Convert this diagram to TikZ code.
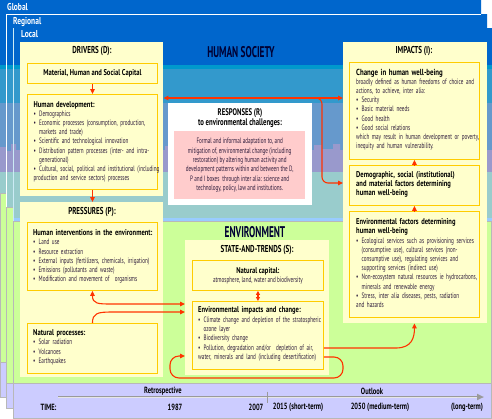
\documentclass[tikz,border=0pt]{standalone}
\usepackage{fontspec}
\setmainfont{PT Sans}[FakeStretch=0.66]
\newfontfamily\condfont{PT Sans}[FakeStretch=0.6]
\newfontfamily\ttlfont{PT Sans}[FakeStretch=0.7]
\newfontfamily\hdfont{PT Sans}[FakeStretch=0.78]
\newfontfamily\lvlfont{PT Sans}[FakeStretch=0.75]
\newfontfamily\tlfont{PT Sans}[FakeStretch=0.72]
\usetikzlibrary{arrows.meta}

\definecolor{skyA}{HTML}{0066CC}
\definecolor{skyB}{HTML}{0099CC}
\definecolor{skyC}{HTML}{3399CC}
\definecolor{skyD}{HTML}{6699CC}
\definecolor{skyE}{HTML}{9999CC}
\definecolor{skyF}{HTML}{99CCCC}
\definecolor{skyG}{HTML}{99CCFF}
\definecolor{envgreen}{HTML}{CCFF99}
\definecolor{timelav}{HTML}{CCCCFF}
\definecolor{boxyellow}{HTML}{FFFFCC}
\definecolor{boxline}{HTML}{FFCC00}
\definecolor{respink}{HTML}{FFCCCC}
\definecolor{arrred}{HTML}{FF3300}
\definecolor{bodytxt}{HTML}{2E1C3C}
\definecolor{navy}{HTML}{000033}
\definecolor{framegray}{HTML}{B8B8B8}
\definecolor{timegray}{HTML}{9A9A9A}

\newcommand\bodyfont{\fontsize{7.8}{9.2}\selectfont}
\newcommand\bu{\par\hangindent=5.5pt\hangafter=1\noindent\makebox[5.5pt][l]{\textbullet}}
\newcommand\hdr[1]{{\color{black}\hdfont\bfseries\fontsize{8.4}{9.2}\selectfont #1}}
\newcommand\skybands{%
  \fill[skyA] (0,0) rectangle (492,65);
  \fill[skyB] (0,65) rectangle (492,69);
  \fill[skyC] (0,69) rectangle (492,103);
  \fill[skyD] (0,103) rectangle (492,153);
  \fill[skyE] (0,153) -- (0,147) -- (6,147) -- (6,151) -- (11,151) -- (11,144) -- (16,144) -- (16,150) -- (165,150) -- (165,146) -- (170,146) -- (170,150) -- (314,150) -- (314,145) -- (322,145) -- (322,149) -- (333,149) -- (333,144) -- (340,144) -- (340,150) -- (492,150) -- (492,172) -- (0,172) -- cycle;
  \fill[skyF] (0,172) rectangle (492,218);
  \fill[skyG] (0,218) rectangle (492,221);
}

\begin{document}
\begin{tikzpicture}[x=1pt,y=-1pt,
  outerbox/.style={fill=boxyellow, draw=none, inner sep=0pt, anchor=north west},
  innerbox/.style={fill=boxyellow, draw=boxline, line width=0.9pt, inner sep=0pt, anchor=north west},
  body/.style={font=\bodyfont, text=bodytxt, align=left, inner sep=0pt, anchor=base west, text width=#1},
  body/.default=128pt,
  ttl/.style={font=\ttlfont\bfseries\fontsize{10}{11}\selectfont, text=black, inner sep=0pt, align=center},
  bigttl/.style={font=\condfont\bfseries\fontsize{15.5}{18}\selectfont, text=navy, inner sep=0pt},
  lvl/.style={font=\lvlfont\bfseries\fontsize{10}{11}\selectfont, text=white, inner sep=0pt, anchor=west},
  tl/.style={font=\tlfont\bfseries\fontsize{9}{10}\selectfont, text=black, inner sep=0pt},
  arr/.style={draw=arrred, line width=1.1pt, -{Triangle[length=5pt,width=4.5pt]}},
  darr/.style={draw=arrred, line width=1.1pt, {Triangle[length=5pt,width=4.5pt]}-{Triangle[length=5pt,width=4.5pt]}},
  sarr/.style={draw=arrred, line width=1.1pt, {Triangle[length=4pt,width=4pt]}-{Triangle[length=4pt,width=4pt]}}
]
\useasboundingbox (0,0) rectangle (492,418);
\fill[white] (0,0) rectangle (492,418);

% ---------- Global frame ----------
\begin{scope}\clip (0,0) rectangle (481,193); \skybands \end{scope}
\fill[envgreen] (0,193) rectangle (481,362);
\fill[timelav] (0,362) rectangle (481,397);
\draw[framegray, line width=0.6pt] (0.3,193) rectangle (481,397);
\draw[framegray, line width=0.6pt] (0.3,362) -- (481,362);

% ---------- Regional frame ----------
\begin{scope}\clip (6,14) rectangle (487,207); \skybands \end{scope}
\fill[envgreen] (6,207) rectangle (487,383);
\fill[timelav] (6,383) rectangle (487,408);
\draw[framegray, line width=0.6pt] (6,207) rectangle (487,408);
\draw[framegray, line width=0.6pt] (6,383) -- (487,383);
\draw[white, line width=1pt] (6,14) -- (481,14);
\draw[white, line width=0.8pt] (6,14) -- (6,207);

% ---------- Local frame ----------
\begin{scope}\clip (13,28) rectangle (492,221); \skybands \end{scope}
\fill[envgreen] (13,221) rectangle (492,383);
\fill[timelav] (13,383) rectangle (492,418);
\draw[framegray, line width=0.6pt] (13,221) rectangle (491.5,418);
\draw[framegray, line width=0.6pt] (13,383) -- (491.5,383);
\draw[white!80!skyB, line width=0.8pt] (13,28) -- (13,221);

% level labels
\node[lvl] (lglobal) at (7,6.5) {Global};
\node[lvl] (lregional) at (13,22) {Regional};
\node[lvl] (llocal) at (21,34.5) {Local};

% big titles
\node[bigttl] (hsoc) at (241,52) {HUMAN SOCIETY};
\node[bigttl] (envt) at (255,232) {ENVIRONMENT};

% ---------- DRIVERS ----------
\node[outerbox, minimum width=143pt, minimum height=154pt] (drv) at (20,42) {};
\node[ttl] (tdrv) at (92,51) {DRIVERS (D):};
\node[innerbox, minimum width=130pt, minimum height=20pt] (mat) at (27,63) {};
\node[ttl, font=\hdfont\bfseries\fontsize{8.4}{9}\selectfont] (tmat) at (mat.center) {Material, Human and Social Capital};
\node[innerbox, minimum width=130pt, minimum height=95pt] (hd) at (27,94) {};
\node[body=126pt] (thd) at (33.5,107) {\hdr{Human development:}\bu Demographics\bu Economic processes (consumption, production,\newline markets and trade)\bu Scientific and technological innovation\bu Distribution pattern processes (inter- and intra-\newline generational)\bu Cultural, social, political and institutional (including\newline production and service sectors) processes};

% ---------- PRESSURES ----------
\node[outerbox, minimum width=143pt, minimum height=175pt] (prs) at (20,202) {};
\node[ttl] (tprs) at (92,212) {PRESSURES (P):};
\node[innerbox, minimum width=130pt, minimum height=68pt] (hi) at (27,222) {};
\node[body=126pt] (thi) at (33,235.7) {\hdr{Human interventions in the environment:}\bu Land use\bu Resource extraction\bu External inputs (fertilizers, chemicals, irrigation)\bu Emissions (pollutants and waste)\bu Modification and movement of\ \ organisms};
\node[innerbox, minimum width=130pt, minimum height=50pt] (np) at (27,323) {};
\node[body=126pt] (tnp) at (33,335.7) {\hdr{Natural processes:}\bu Solar radiation\bu Volcanoes\bu Earthquakes};

% ---------- RESPONSES ----------
\node[fill=white, draw=none, inner sep=0pt, anchor=north west, minimum width=144pt, minimum height=102pt] (rsp) at (168,103) {};
\node[ttl, font=\ttlfont\bfseries\fontsize{9.6}{10}\selectfont] (trsp) at (240,118) {RESPONSES (R)\\to environmental challenges:};
\node[fill=respink, draw=none, inner sep=0pt, anchor=north west, minimum width=131pt, minimum height=68pt] (pink) at (174,131) {};
\node[font=\fontsize{7.8}{9.4}\selectfont, text=bodytxt, align=center, inner sep=0pt] (tpink) at (pink.center) {Formal and informal adaptation to, and\\mitigation of, environmental change (including\\restoration) by altering human activity and\\development patterns within and between the D,\\P and I boxes\ \ through inter alia: science and\\technology, policy, law and institutions.};

% ---------- STATE ----------
\node[outerbox, minimum width=144pt, minimum height=135pt] (sbx) at (185,240) {};
\node[ttl] (tsbx) at (257,250) {STATE-AND-TRENDS (S):};
\node[innerbox, minimum width=131pt, minimum height=30pt] (nc) at (192,260) {};
\node[font=\fontsize{7.8}{9}\selectfont, text=bodytxt, align=center, inner sep=0pt] (tnc) at (nc.center) {\hdr{Natural capital:}\\atmosphere, land, water and biodiversity};
\node[innerbox, minimum width=131pt, minimum height=68pt] (ei) at (192,301) {};
\node[body=126pt, font=\fontsize{7.8}{9.4}\selectfont] (tei) at (198,312.7) {\hdr{Environmental impacts and change:}\bu Climate change and depletion of the stratospheric\newline ozone layer\bu Biodiversity change\bu Pollution, degradation and/or\ \ depletion of air,\newline water, minerals and land (including desertification)};

% ---------- IMPACTS ----------
\node[outerbox, minimum width=144pt, minimum height=281pt] (imp) at (343,42) {};
\node[ttl] (timp) at (414,51) {IMPACTS (I):};
\node[innerbox, minimum width=130pt, minimum height=97pt] (cw) at (349,62) {};
\node[body=124pt, font=\fontsize{7.8}{9.1}\selectfont] (tcw) at (356,75.5) {{\color{black}\hdfont\bfseries\fontsize{8.8}{9.1}\selectfont Change in human well-being}\par broadly defined as human freedoms of choice and\newline actions, to achieve, inter alia:\bu Security\bu Basic material needs\bu Good health\bu Good social relations\par\noindent which may result in human development or poverty,\newline inequity and human vulnerability.};
\node[innerbox, minimum width=130pt, minimum height=40pt] (df) at (349,165) {};
\node[body=124pt, font=\fontsize{7.8}{9}\selectfont] (tdf) at (356,177.7) {\hdr{Demographic, social (institutional)\newline and material factors determining\newline human well-being}};
\node[innerbox, minimum width=130pt, minimum height=106pt] (ef) at (349,211) {};
\node[body=124pt] (tef) at (356,224.7) {\hdr{Environmental factors determining\newline human well-being}\bu Ecological services such as provisioning services\newline (consumptive use), cultural services (non-\newline consumptive use), regulating services and\newline supporting services (indirect use)\bu Non-ecosystem natural resources ie hydrocarbons,\newline minerals and renewable energy\bu Stress, inter alia diseases, pests, radiation\newline and hazards};

% ---------- connectors ----------
\coordinate (ry) at (0,98);
\coordinate (bj) at (316,98);
\draw[arr] (mat.south) -- (hd.north);
\draw[arr] (hd.south) -- (hd.south |- prs.north);
\draw[darr] (drv.east |- ry) -- (imp.west |- ry);
\draw[arr, rounded corners=6pt] (bj) -| (322,183) -- (imp.west |- 0,183);
\draw[arr] (df.north) -- (cw.south);
\draw[arr] (ef.north) -- (df.south);
\draw[sarr] (nc.south) -- (ei.north);
\draw[darr] (hi.south) .. controls +(0,13) and +(-14,0) .. (112,304) -- (sbx.west |- 0,304);
\draw[arr] (np.north) .. controls +(0,-10) and +(-14,0) .. (112,312) -- (sbx.west |- 0,312);
\draw[arr] (ei.east |- 0,348) -- (396,348) .. controls +(16,0) and +(0,14) .. (ef.center |- imp.south);
\draw[arr, rounded corners=9pt] (ei.east |- 0,357) -- (343,357) -- (343,378) -- (170,378) -- (170,356) -- (sbx.west |- 0,356);

% ---------- timeline ----------
\coordinate (tstart) at (58,397);
\coordinate (tend) at (484,397);
\draw[timegray, line width=2.2pt, -{Triangle[length=7pt,width=6pt]}] (tstart) -- (tend);
\draw[white!75!timegray, line width=0.7pt, shorten >=7pt] (tstart) -- (tend);
\draw[timegray, line width=0.8pt] (267,391.5) -- (267,402.5);
\node[tl] (tretro) at (163,391) {Retrospective};
\node[tl] (toutl) at (372,391) {Outlook};
\node[tl] (ttime) at (48.5,407) {TIME:};
\node[tl] (t1987) at (175,407) {1987};
\node[tl] (t2007) at (256,407) {2007};
\node[tl] (t2015) at (298,407) {2015 (short-term)};
\node[tl] (t2050) at (380,407) {2050 (medium-term)};
\node[tl] (tlong) at (467,407) {(long-term)};
\end{tikzpicture}
\end{document}
